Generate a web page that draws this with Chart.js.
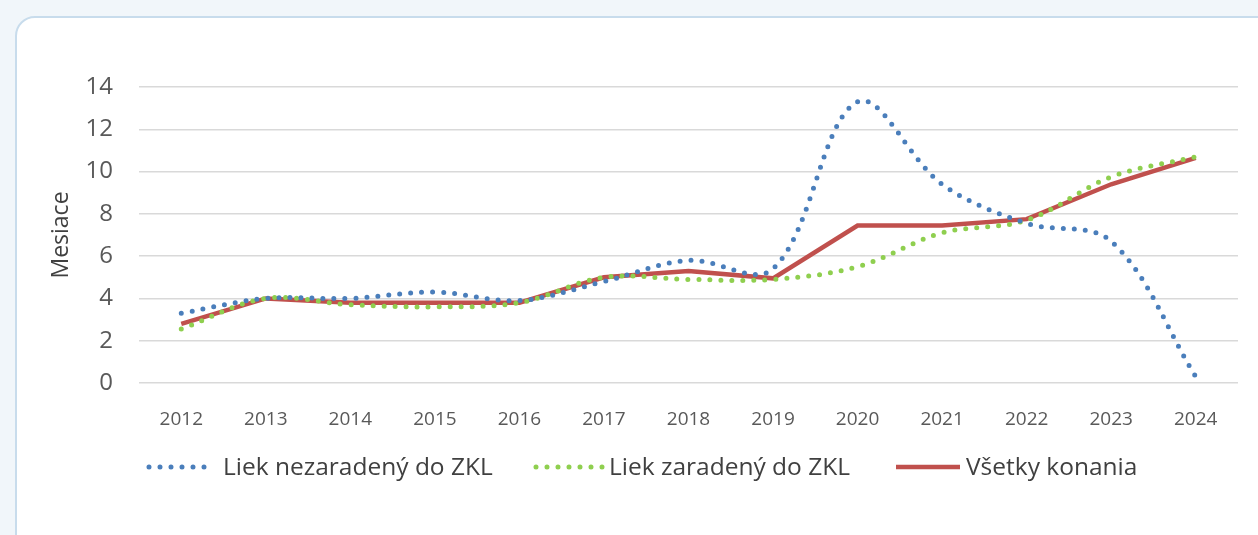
<!DOCTYPE html>
<html>
<head>
<meta charset="utf-8">
<script src="https://cdn.jsdelivr.net/npm/chart.js@4/dist/chart.umd.min.js"></script>
<style>
  html, body { margin: 0; padding: 0; background: #f1f6fa; overflow: hidden; }
  #card {
    position: absolute; left: 15px; top: 16px; width: 1260px; height: 540px;
    background: #fff; border: 2px solid #c8dcec; border-radius: 20px;
  }
  #wrap { position: absolute; left: 0; top: 0; width: 1258px; height: 535px; }
</style>
</head>
<body>
<div id="card"></div>
<div id="wrap"><canvas id="chart" width="1258" height="535"></canvas></div>
<script>
// Roky a hodnoty (mesiace) odčítané z grafu
const years = ['2012', '2013', '2014', '2015', '2016', '2017', '2018', '2019', '2020', '2021', '2022', '2023', '2024'];
const nezaradeny = [3.3, 4.0, 4.0, 4.3, 3.9, 4.8, 5.8, 5.4, 13.3, 9.4, 7.55, 6.7, 0.3];
const zaradeny = [2.55, 4.0, 3.7, 3.6, 3.8, 5.0, 4.9, 4.9, 5.5, 7.1, 7.7, 9.75, 10.7];
const vsetky = [2.8, 4.0, 3.8, 3.8, 3.8, 5.0, 5.3, 4.95, 7.45, 7.45, 7.75, 9.4, 10.65];

const FONT = '"Open Sans", Lato, sans-serif';

// vlastná legenda pod grafom (pozície podľa predlohy)
const legendPlugin = {
    id: 'customLegend',
    afterDraw(chart) {
        const ctx = chart.ctx;
        const y = 467;
        const items = [
            { ds: 0, x1: 149, x2: 205, tx: 223 },
            { ds: 1, x1: 536, x2: 603, tx: 609 },
            { ds: 2, x1: 896, x2: 960, tx: 966 }
        ];
        ctx.save();
        items.forEach(it => {
            const d = chart.data.datasets[it.ds];
            ctx.beginPath();
            ctx.strokeStyle = d.borderColor;
            ctx.lineWidth = d.borderWidth;
            ctx.lineCap = d.borderCapStyle || 'butt';
            ctx.setLineDash(d.borderDash || []);
            ctx.moveTo(it.x1, y);
            ctx.lineTo(it.x2, y);
            ctx.stroke();
            ctx.setLineDash([]);
            ctx.fillStyle = '#404040';
            ctx.font = '24.5px ' + FONT;
            ctx.textBaseline = 'alphabetic';
            ctx.textAlign = 'left';
            ctx.fillText(d.label, it.tx, 475);
        });
        ctx.restore();
    }
};

new Chart(document.getElementById('chart'), {
    type: 'line',
    data: {
        labels: years,
        datasets: [{
            label: 'Liek nezaradený do ZKL',
            data: nezaradeny,
            borderColor: '#4a7ebb',
            borderWidth: 5,
            borderDash: [0, 11],
            borderCapStyle: 'round',
            tension: 0.35,
            pointRadius: 0
        }, {
            label: 'Liek zaradený do ZKL',
            data: zaradeny,
            borderColor: '#8fcf4f',
            borderWidth: 5,
            borderDash: [0, 11],
            borderCapStyle: 'round',
            tension: 0.35,
            pointRadius: 0
        }, {
            label: 'Všetky konania',
            data: vsetky,
            borderColor: '#c0504d',
            borderWidth: 4.5,
            tension: 0,
            pointRadius: 0
        }]
    },
    options: {
        responsive: false,
        animation: false,
        layout: { padding: { left: 48, top: 87, right: 20, bottom: 92 } },
        plugins: {
            legend: { display: false },
            tooltip: { enabled: false }
        },
        scales: {
            x: {
                offset: true,
                grid: { display: false },
                border: { display: false },
                ticks: { color: '#595959', font: { family: FONT, size: 19 }, padding: 17, maxRotation: 0 },
                afterFit: s => { s.height = 60; }
            },
            y: {
                min: 0,
                max: 14,
                border: { display: false },
                grid: { color: '#d9d9d9', lineWidth: 1.5, drawTicks: false },
                ticks: { stepSize: 2, color: '#595959', font: { family: FONT, size: 24 }, padding: 26 },
                title: { display: true, text: 'Mesiace', color: '#404040', font: { family: FONT, size: 23 }, padding: 0 },
                afterFit: s => { s.width = 91; }
            }
        }
    },
    plugins: [legendPlugin]
});
</script>
</body>
</html>
